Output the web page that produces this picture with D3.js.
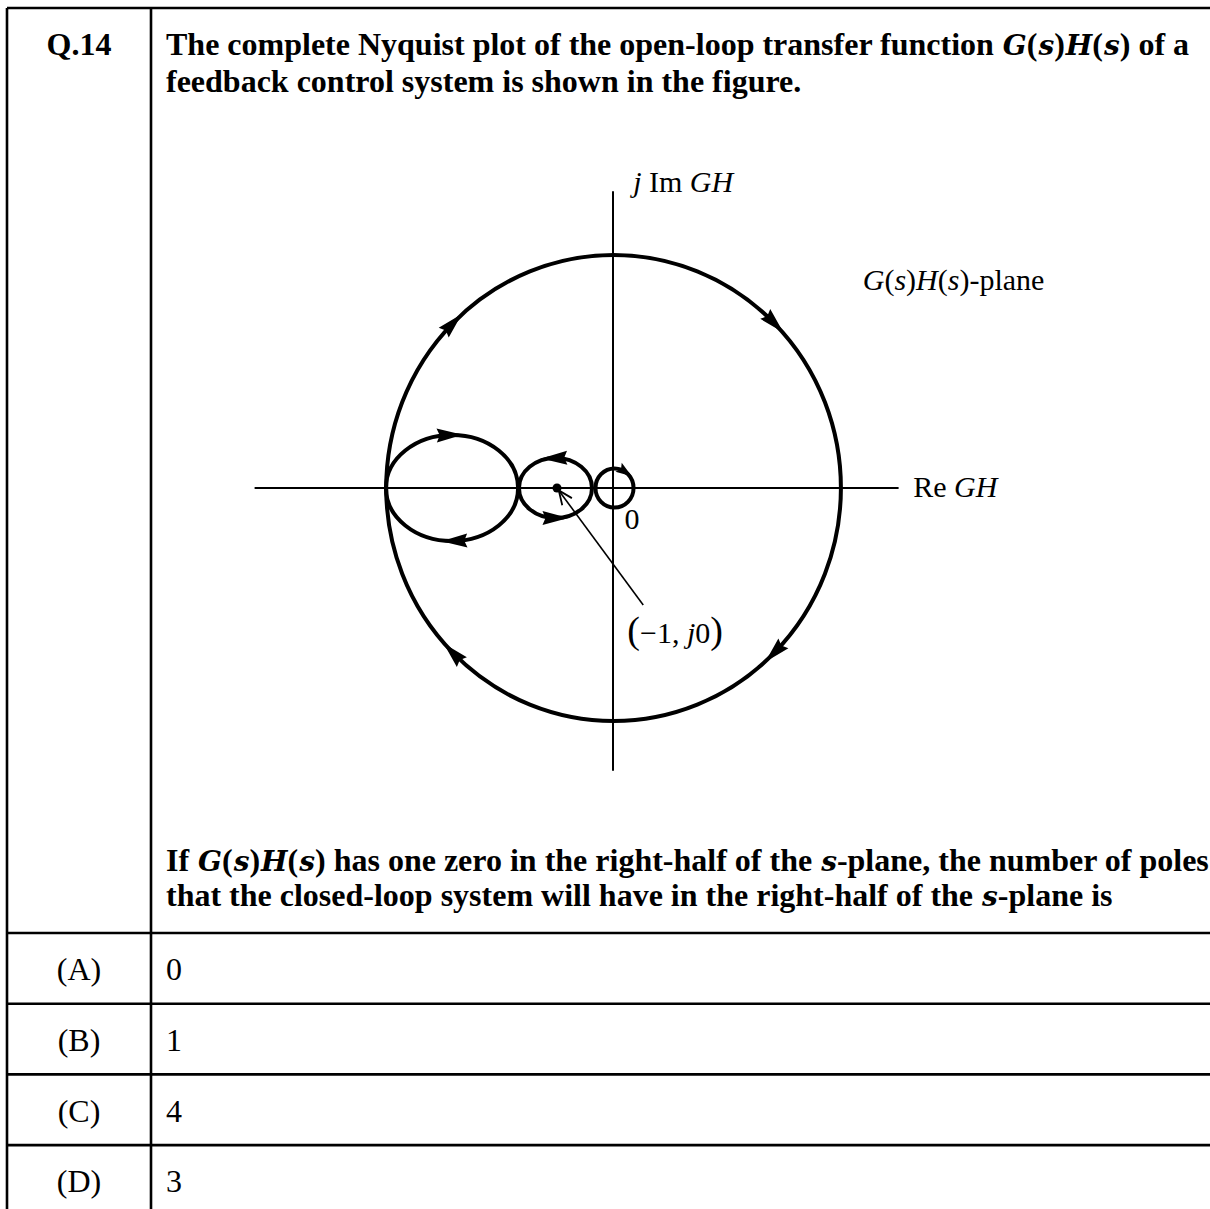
<!DOCTYPE html>
<html>
<head>
<meta charset="utf-8">
<script src="https://cdn.jsdelivr.net/npm/d3@7"></script>
<style>
  body { margin: 0; background: #fff; }
  text { font-family: "Liberation Serif", "Times New Roman", serif; fill: #000; }
</style>
</head>
<body>
<script>
// text of the question; *..* marks italic (math), ^..^ marks big parens
var qNumber = "Q.14";
var questionTop = [
  "The complete Nyquist plot of the open-loop transfer function *G*(*s*)*H*(*s*) of a",
  "feedback control system is shown in the figure."
];
var questionBottom = [
  "If *G*(*s*)*H*(*s*) has one zero in the right-half of the *s*-plane, the number of poles",
  "that the closed-loop system will have in the right-half of the *s*-plane is"
];
var optionLabels = ["(A)", "(B)", "(C)", "(D)"];
var optionValues = ["0", "1", "4", "3"];

// Nyquist contours in GH-plane units (critical point at -1)
var loopCentre   = [0.01, -2.875, -1.027, 0.027];
var loopRadiusRe = [4.06, 1.18, 0.652, 0.34];
var loopRadiusIm = [4.16, 0.946, 0.536, 0.35];
var loopSense    = [-1, -1, 1, -1];          // -1 = clockwise
var arrowAngles  = [[135, 45, -45, -135], [92, -88], [92, -90], [56]];
var criticalPoint = [-1, 0];
var pointerFrom = [0.54, -2.09];
var reRange = [-6.4, 5.1];
var imRange = [-5.05, 5.3];

// plot labels: [re, im, anchor, text]
var plotLabels = [
  [0.36, 5.29, "start", "*j* Im *GH*"],
  [4.46, 3.54, "start", "*G*(*s*)*H*(*s*)-plane"],
  [5.36, -0.16, "start", "Re *GH*"],
  [0.34, -0.73, "middle", "0"],
  [1.11, -2.77, "middle", "^(^−1, *j*0^)^"]
];

var W = 1210, H = 1209;
var svg = d3.select("body").append("svg")
  .attr("width", W).attr("height", H);

// ---- table frame ----
var frameX = 7, divX = 151, topY = 8, rowTop = 933, rowH = 70.7;
var frame = svg.append("g").attr("stroke", "#000").attr("stroke-width", 2.6);
frame.append("line").attr("x1", frameX).attr("x2", W).attr("y1", topY).attr("y2", topY);
frame.append("line").attr("x1", frameX).attr("x2", frameX).attr("y1", topY).attr("y2", H);
frame.append("line").attr("x1", divX).attr("x2", divX).attr("y1", topY).attr("y2", H);
frame.selectAll("line.row").data(optionLabels).enter().append("line")
  .attr("class", "row")
  .attr("x1", frameX).attr("x2", W)
  .attr("y1", function(d, i) { return rowTop + i * rowH; })
  .attr("y2", function(d, i) { return rowTop + i * rowH; });

// write a string with *italic* and ^big^ parts into a text element
// math=true -> italic bits in a wider math-like face
function richText(sel, str, bigSize, math) {
  var italic = false, big = false, buf = "";
  function flush() {
    if (!buf) return;
    var t = sel.append("tspan").text(buf);
    if (italic) {
      t.attr("font-style", "italic");
      if (math) t.attr("font-family", "DejaVu Serif").attr("font-size", 28).attr("dx", 1);
    }
    if (big) t.attr("font-size", bigSize);
    buf = "";
  }
  for (var i = 0; i < str.length; i++) {
    var c = str[i];
    if (c === "*") { flush(); italic = !italic; }
    else if (c === "^") { flush(); big = !big; }
    else buf += c;
  }
  flush();
}

svg.append("text")
  .attr("x", 79).attr("y", 55)
  .attr("text-anchor", "middle")
  .attr("font-size", 32).attr("font-weight", "bold")
  .text(qNumber);

function paragraph(lines, y0, lh) {
  lines.forEach(function(l, i) {
    var t = svg.append("text")
      .attr("x", 166).attr("y", y0 + i * lh)
      .attr("font-size", 32).attr("font-weight", "bold")
      .attr("xml:space", "preserve");
    richText(t, l, 32, true);
  });
}
paragraph(questionTop, 55, 37);
paragraph(questionBottom, 871, 35);

optionLabels.forEach(function(lab, i) {
  var cy = rowTop + i * rowH + rowH / 2 + 12;
  svg.append("text").attr("x", 79).attr("y", cy)
    .attr("text-anchor", "middle").attr("font-size", 32).text(lab);
  svg.append("text").attr("x", 166).attr("y", cy)
    .attr("font-size", 32).text(optionValues[i]);
});

// ---- Nyquist plot ----
var ox = 613, oy = 488, unit = 56;
var x = d3.scaleLinear().domain(reRange)
  .range([ox + reRange[0] * unit, ox + reRange[1] * unit]);
var y = d3.scaleLinear().domain(imRange)
  .range([oy - imRange[0] * unit, oy - imRange[1] * unit]);

var plot = svg.append("g");

// axes
plot.append("line")
  .attr("x1", x(reRange[0])).attr("x2", x(reRange[1]))
  .attr("y1", y(0)).attr("y2", y(0))
  .attr("stroke", "#000").attr("stroke-width", 2);
plot.append("line")
  .attr("x1", x(0)).attr("x2", x(0))
  .attr("y1", y(imRange[0])).attr("y2", y(imRange[1]))
  .attr("stroke", "#000").attr("stroke-width", 2);

// loops
loopCentre.forEach(function(c, i) {
  var rx = x(c + loopRadiusRe[i]) - x(c);
  var ry = y(0) - y(loopRadiusIm[i]);
  plot.append("ellipse")
    .attr("cx", x(c)).attr("cy", y(0))
    .attr("rx", rx).attr("ry", ry)
    .attr("fill", "none").attr("stroke", "#000").attr("stroke-width", 4);

  var len = i === 3 ? 16 : 26, wid = i === 3 ? 11 : 14;
  arrowAngles[i].forEach(function(a) {
    var th = a * Math.PI / 180;
    var px = x(c + loopRadiusRe[i] * Math.cos(th));
    var py = y(loopRadiusIm[i] * Math.sin(th));
    // tangent in screen space
    var dx = loopSense[i] * -rx * Math.sin(th);
    var dy = loopSense[i] * -ry * Math.cos(th);
    var rot = Math.atan2(dy, dx) * 180 / Math.PI;
    plot.append("path")
      .attr("d", "M" + (len / 2) + ",0L" + (-len / 2) + "," + (-wid / 2) +
                 "L" + (-len / 2 + 3) + ",0L" + (-len / 2) + "," + (wid / 2) + "Z")
      .attr("transform", "translate(" + px + "," + py + ") rotate(" + rot + ")")
      .attr("fill", "#000");
  });
});

// critical point and pointer
plot.append("circle")
  .attr("cx", x(criticalPoint[0])).attr("cy", y(criticalPoint[1]))
  .attr("r", 4.5).attr("fill", "#000");

var x0 = x(pointerFrom[0]), y0 = y(pointerFrom[1]);
var x1 = x(criticalPoint[0]), y1 = y(criticalPoint[1]);
var ang = Math.atan2(y1 - y0, x1 - x0);
var tipX = x1 - Math.cos(ang) * 3, tipY = y1 - Math.sin(ang) * 3;
plot.append("line")
  .attr("x1", x0).attr("y1", y0).attr("x2", tipX).attr("y2", tipY)
  .attr("stroke", "#000").attr("stroke-width", 1.6);
plot.append("path")
  .attr("d", "M-14,-6L0,0L-14,6")
  .attr("transform", "translate(" + tipX + "," + tipY + ") rotate(" + (ang * 180 / Math.PI) + ")")
  .attr("fill", "none").attr("stroke", "#000").attr("stroke-width", 1.8);

plotLabels.forEach(function(l) {
  var t = plot.append("text")
    .attr("x", x(l[0])).attr("y", y(l[1]))
    .attr("text-anchor", l[2])
    .attr("font-size", 30)
    .attr("xml:space", "preserve");
  richText(t, l[3], 38, false);
});
</script>
</body>
</html>
